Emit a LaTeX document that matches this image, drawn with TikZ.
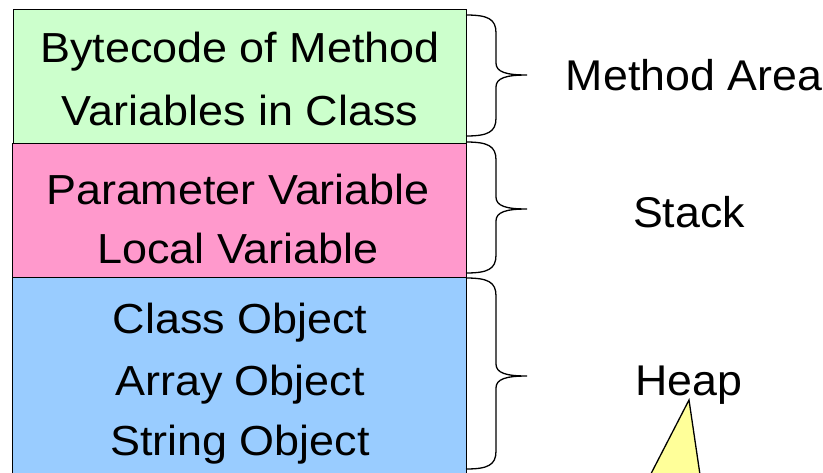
\documentclass[tikz,border=0pt]{standalone}
\usepackage{fontspec}
\setmainfont{Liberation Sans}
\newfontfamily\widefont[FakeStretch=1.07]{Liberation Sans}
\newfontfamily\areafont[FakeStretch=1.04]{Liberation Sans}
\definecolor{boxgreen}{HTML}{CCFFCC}
\definecolor{boxpink}{HTML}{FF99CC}
\definecolor{boxblue}{HTML}{99CCFF}
\definecolor{boxyellow}{HTML}{FFFF99}
\newcommand\membrace[3]{%
  \draw[bracestyle] (466,#1) .. controls (488,#1) and (496,{#1+4}) .. (496,{#1+18})
    -- (496,{#3-12}) .. controls (496,{#3-3}) and (506,#3) .. (527,#3)
    .. controls (506,#3) and (496,{#3+3}) .. (496,{#3+12})
    -- (496,{#2-18}) .. controls (496,{#2-4}) and (488,#2) .. (466,#2);}
\begin{document}
\begin{tikzpicture}[x=1pt,y=-1pt,
  membox/.style={draw=black, line width=1.3pt, inner sep=0pt, anchor=north west},
  boxtext/.style={font=\widefont\fontsize{42}{42}\selectfont, anchor=base, inner sep=0pt},
  areatext/.style={font=\areafont\fontsize{43}{43}\selectfont, anchor=base, inner sep=0pt},
  bracestyle/.style={line width=1.3pt}]
\useasboundingbox (0,0) rectangle (823,472);
\begin{scope}
\clip (0,0) rectangle (823,472);
\node[membox, fill=boxgreen, minimum width=453pt, minimum height=134pt] (green) at (13,9) {};
\node[membox, fill=boxpink, minimum width=454.5pt, minimum height=134pt] (pink) at (11.5,143) {};
\node[membox, fill=boxblue, minimum width=454pt, minimum height=210pt] (blue) at (12,277) {};
\draw[line width=1.3pt, fill=boxyellow] (689,400) -- (640,495) -- (703,495) -- cycle;
\end{scope}
\node[boxtext] (t1) at (240,62) {Bytecode of Method};
\node[boxtext] (t2) at (240,125) {Variables in Class};
\node[boxtext] (t3) at (238,204) {Parameter Variable};
\node[boxtext] (t4) at (238,263) {Local Variable};
\node[boxtext] (t5) at (240,333) {Class Object};
\node[boxtext] (t6) at (240,395) {Array Object};
\node[boxtext] (t7) at (240,455) {String Object};
\membrace{15}{136}{75}
\membrace{142}{273}{209}
\membrace{278}{469}{376}
\node[areatext] (ma) at (694,90) {Method Area};
\node[areatext] (st) at (689,227) {Stack};
\node[areatext] (hp) at (689,395) {Heap};
\end{tikzpicture}
\end{document}
